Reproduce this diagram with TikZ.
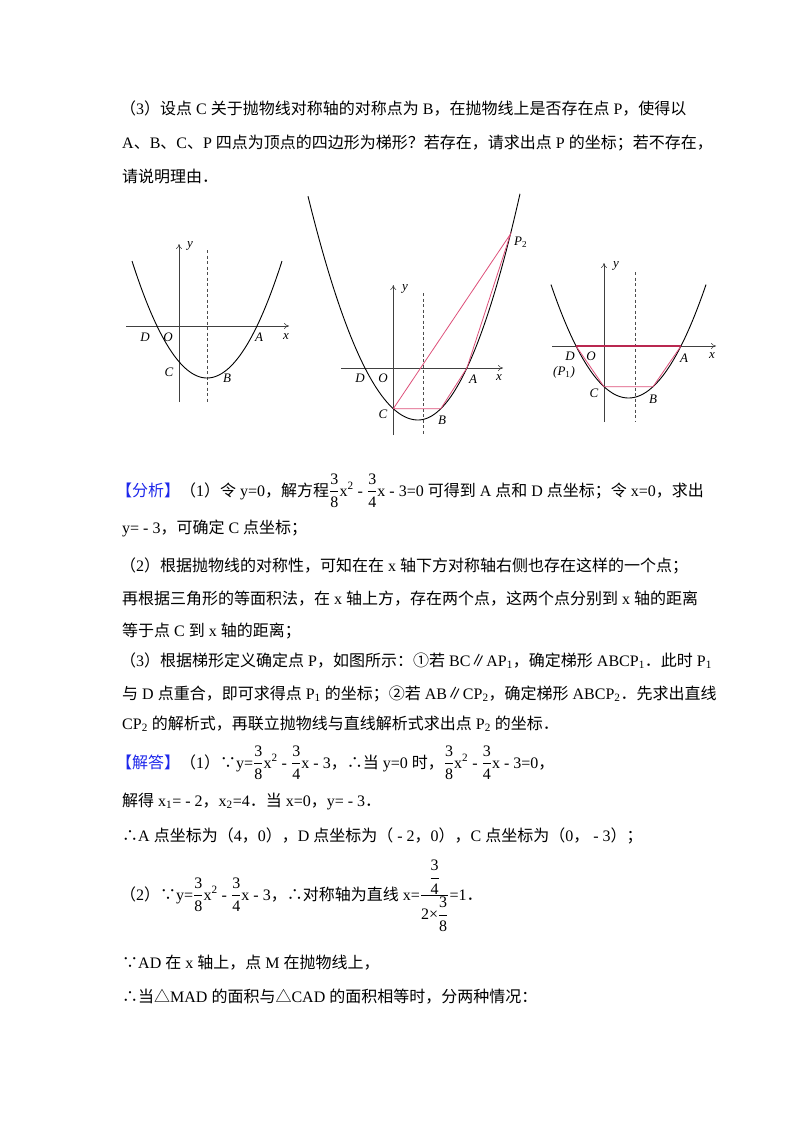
\documentclass[tikz,border=0pt]{standalone}
\usepackage{amsmath}
\usepackage{fontspec}
\usetikzlibrary{arrows.meta}
\setmainfont{Liberation Serif}
\newfontfamily\cjk{Noto Sans CJK SC}
\XeTeXinterchartokenstate=1
\chardef\cjkcls=7
\newcount\cc
\def\setcls#1#2{\cc=#1 \loop \XeTeXcharclass\cc=\cjkcls \ifnum\cc<#2 \advance\cc 1 \repeat}
\setcls{"3000}{"303F}
\setcls{"4E00}{"9FFF}
\setcls{"FF00}{"FFEF}
\setcls{"2460}{"2473}
\setcls{"2234}{"2235}
\setcls{"2225}{"2225}
\setcls{"25B3}{"25B3}
\XeTeXinterchartoks 0 \cjkcls = {\cjk}
\XeTeXinterchartoks 4095 \cjkcls = {\cjk}
\XeTeXinterchartoks \cjkcls 0 = {\rmfamily}
\XeTeXinterchartoks \cjkcls 4095 = {\rmfamily}
\newcommand\fr[2]{\ensuremath{\genfrac{}{}{0.4pt}{0}{\mbox{#1}}{\mbox{#2}}}}
\newcommand\sq{x\textsuperscript{2}}
\definecolor{pk}{RGB}{222,80,122}
\definecolor{dpk}{RGB}{185,40,80}
\definecolor{hd}{RGB}{30,40,235}
\tikzset{
  ln/.style={anchor=base west,inner sep=0pt,font=\fontsize{16}{18}\selectfont},
  ax/.style={draw=black!75,line width=0.6pt,-{To[length=5pt,width=6pt]}},
  sym/.style={draw=black!70,line width=0.6pt,dash pattern=on 3pt off 2.5pt},
  crv/.style={draw=black,line width=0.9pt},
  pkl/.style={draw=pk,line width=0.8pt},
  lb/.style={font=\fontsize{13}{14}\selectfont\itshape,inner sep=0pt}
}
\begin{document}
\begin{tikzpicture}[x=1pt,y=-1pt]
\useasboundingbox (0,0) rectangle (800,1132);
\fill[white] (0,0) rectangle (800,1132);
% text
\node[ln] (t1) at (120,114) {（3）设点 C 关于抛物线对称轴的对称点为 B，在抛物线上是否存在点 P，使得以};
\node[ln] (t2) at (122,148) {A、B、C、P 四点为顶点的四边形为梯形？若存在，请求出点 P 的坐标；若不存在，};
\node[ln] (t3) at (122,182) {请说明理由．};
\node[ln] (t4) at (116,496) {\textcolor{hd}{【分析】}（1）令 y=0，解方程\fr38\sq{} - \fr34x - 3=0 可得到 A 点和 D 点坐标；令 x=0，求出};
\node[ln] (t5) at (122,533) {y= - 3，可确定 C 点坐标；};
\node[ln] (t6) at (120,571) {（2）根据抛物线的对称性，可知在在 x 轴下方对称轴右侧也存在这样的一个点；};
\node[ln] (t7) at (122,604) {再根据三角形的等面积法，在 x 轴上方，存在两个点，这两个点分别到 x 轴的距离};
\node[ln] (t8) at (122,636) {等于点 C 到 x 轴的距离；};
\node[ln] (t9) at (120,666) {（3）根据梯形定义确定点 P，如图所示：①若 BC∥AP\textsubscript{1}，确定梯形 ABCP\textsubscript{1}．此时 P\textsubscript{1}};
\node[ln] (t10) at (122,699) {与 D 点重合，即可求得点 P\textsubscript{1} 的坐标；②若 AB∥CP\textsubscript{2}，确定梯形 ABCP\textsubscript{2}．先求出直线};
\node[ln] (t11) at (122,729) {CP\textsubscript{2} 的解析式，再联立抛物线与直线解析式求出点 P\textsubscript{2} 的坐标．};
\node[ln] (t12) at (116,768) {\textcolor{hd}{【解答】}（1）∵y=\fr38\sq{} - \fr34x - 3，∴当 y=0 时，\fr38\sq{} - \fr34x - 3=0，};
\node[ln] (t13) at (122,806) {解得 x\textsubscript{1}= - 2，x\textsubscript{2}=4．当 x=0，y= - 3．};
\node[ln] (t14) at (122,841) {∴A 点坐标为（4，0），D 点坐标为（ - 2，0），C 点坐标为（0， - 3）；};
\node[ln] (t15) at (120,900) {（2）∵y=\fr38\sq{} - \fr34x - 3，∴对称轴为直线 x=\fr{\fr34}{2×\fr38}=1．};
\node[ln] (t16) at (122,968) {∵AD 在 x 轴上，点 M 在抛物线上，};
\node[ln] (t17) at (122,1002) {∴当△MAD 的面积与△CAD 的面积相等时，分两种情况：};
% graph 1
\draw[ax] (126,326) -- (289,326);
\draw[ax] (179,402) -- (179,244);
\draw[sym] (207,250) -- (207,402);
\draw[crv] plot[domain=132:282,samples=80] (\x,{378-0.0208*(\x-207)*(\x-207)});
\node[lb] (gD1) at (145,337) {D};
\node[lb] (gO1) at (168,337) {O};
\node[lb] (gA1) at (259,337) {A};
\node[lb] (gx1) at (286,337) {x};
\node[lb] (gy1) at (190,246) {y};
\node[lb] (gC1) at (169,372) {C};
\node[lb] (gB1) at (227,378) {B};
% graph 2
\draw[ax] (341,368) -- (503,368);
\draw[ax] (393.3,435) -- (393.3,285);
\draw[sym] (423,293) -- (423,435);
\draw[crv] plot[domain=308:418,samples=60] (\x,{420-0.0185*(\x-418)*(\x-418)});
\draw[crv] plot[domain=418:520,samples=60] (\x,{420-0.02174*(\x-418)*(\x-418)});
\coordinate (C2) at (393.3,408.7);
\coordinate (B2) at (440.8,408.7);
\coordinate (A2) at (466.9,368);
\coordinate (P2) at (510.5,234);
\draw[pkl] (C2) -- (P2) -- (A2) -- (B2) -- (C2);
\node[lb] (gD2) at (360,378) {D};
\node[lb] (gO2) at (383,378) {O};
\node[lb] (gA2) at (473,379) {A};
\node[lb] (gx2) at (499,378) {x};
\node[lb] (gy2) at (405,289) {y};
\node[lb] (gC2) at (383,414) {C};
\node[lb] (gB2) at (442,420) {B};
\node[lb,anchor=west] (gP2) at (514,242) {P\textsubscript{\upshape 2}};
% graph 3
\draw[ax] (552,346) -- (716,346);
\draw[ax] (604,422) -- (604,263);
\draw[sym] (635,272) -- (635,422);
\draw[crv] plot[domain=551:706,samples=80] (\x,{398-0.01887*(\x-628.5)*(\x-628.5)});
\coordinate (D3) at (576,346);
\coordinate (A3) at (681,346);
\coordinate (C3) at (604,386.7);
\coordinate (B3) at (653,386.7);
\draw[pkl] (D3) -- (C3) -- (B3) -- (A3);
\draw[draw=dpk,line width=1.3pt] (D3) -- (A3);
\node[lb] (gD3) at (570,356) {D};
\node[lb] (gO3) at (591,356) {O};
\node[lb] (gP3) at (564,372) {(P\textsubscript{\upshape 1})};
\node[lb] (gA3) at (684,358) {A};
\node[lb] (gx3) at (712,356) {x};
\node[lb] (gy3) at (616,266) {y};
\node[lb] (gC3) at (594,393) {C};
\node[lb] (gB3) at (653,399) {B};
\end{tikzpicture}
\end{document}
